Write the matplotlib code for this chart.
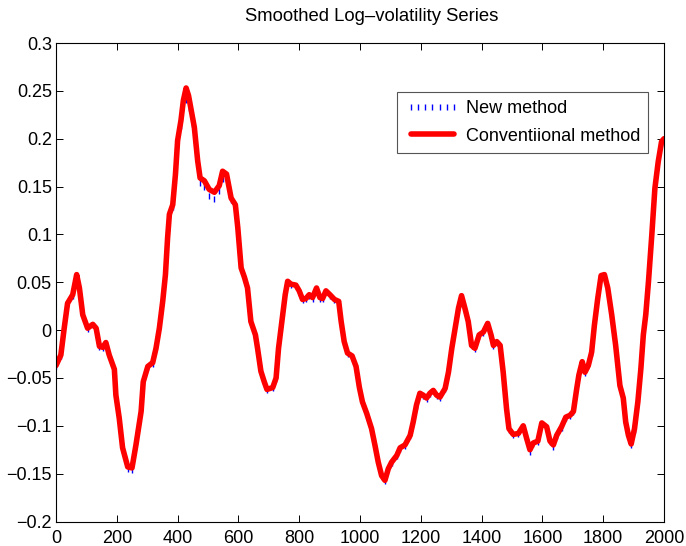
import matplotlib
matplotlib.use("Agg")
import matplotlib.pyplot as plt

plt.rcParams['font.family'] = ['Liberation Sans', 'DejaVu Sans']

title = "Smoothed Log\u2013volatility Series"
label_new = "New method"
label_conv = "Conventiional method"

x_vals = [0, 16, 27, 38, 55, 68, 77, 88, 104, 121, 132, 143, 154, 164, 175, 192, 197, 208, 219, 236,
          250, 263, 280, 287, 302, 318, 329, 340, 351, 360, 367, 373, 384, 393, 400, 411, 419, 428, 436, 447,
          455, 466, 474, 488, 504, 521, 537, 548, 561, 576, 590, 598, 609, 620, 630, 641, 656, 663, 674, 685,
          694, 713, 724, 732, 743, 754, 762, 773, 789, 800, 811, 822, 833, 844, 857, 868, 877, 888, 901, 916,
          930, 938, 948, 959, 974, 987, 998, 1008, 1022, 1038, 1049, 1060, 1071, 1082, 1093, 1104, 1121, 1132, 1148, 1165,
          1175, 1186, 1197, 1208, 1219, 1230, 1241, 1252, 1263, 1280, 1291, 1302, 1313, 1324, 1334, 1345, 1356, 1367, 1378, 1392,
          1406, 1420, 1431, 1439, 1450, 1461, 1471, 1482, 1490, 1504, 1521, 1537, 1548, 1559, 1570, 1585, 1598, 1614, 1625, 1636,
          1647, 1663, 1677, 1691, 1702, 1713, 1720, 1731, 1740, 1751, 1762, 1771, 1782, 1793, 1804, 1815, 1828, 1841, 1855, 1866,
          1874, 1883, 1892, 1903, 1914, 1924, 1932, 1940, 1949, 1960, 1970, 1981, 1992, 2000]

conv_y = [-0.037, -0.026, 0.002, 0.028, 0.037, 0.058, 0.044, 0.016, 0.002, 0.006, 0.002, -0.017, -0.018, -0.013, -0.026, -0.041, -0.068, -0.092, -0.123, -0.143,
          -0.144, -0.120, -0.085, -0.054, -0.038, -0.034, -0.019, 0.002, 0.030, 0.058, 0.096, 0.121, 0.131, 0.163, 0.198, 0.219, 0.240, 0.253, 0.245, 0.226,
          0.212, 0.177, 0.159, 0.156, 0.147, 0.144, 0.151, 0.166, 0.163, 0.138, 0.131, 0.107, 0.065, 0.055, 0.044, 0.009, -0.005, -0.019, -0.043, -0.054,
          -0.062, -0.060, -0.050, -0.019, 0.009, 0.037, 0.051, 0.048, 0.047, 0.041, 0.032, 0.033, 0.037, 0.034, 0.044, 0.034, 0.033, 0.041, 0.037, 0.032,
          0.030, 0.009, -0.012, -0.024, -0.027, -0.038, -0.060, -0.075, -0.087, -0.103, -0.120, -0.138, -0.152, -0.157, -0.145, -0.138, -0.131, -0.123, -0.120, -0.110,
          -0.096, -0.078, -0.066, -0.068, -0.071, -0.066, -0.063, -0.068, -0.070, -0.061, -0.044, -0.019, 0.002, 0.023, 0.036, 0.023, 0.009, -0.016, -0.019, -0.005,
          -0.002, 0.007, -0.005, -0.016, -0.012, -0.016, -0.044, -0.082, -0.103, -0.109, -0.108, -0.100, -0.113, -0.125, -0.118, -0.116, -0.097, -0.101, -0.116, -0.120,
          -0.110, -0.101, -0.091, -0.089, -0.085, -0.061, -0.047, -0.033, -0.044, -0.037, -0.023, 0.005, 0.033, 0.057, 0.058, 0.044, 0.016, -0.016, -0.058, -0.071,
          -0.096, -0.110, -0.119, -0.103, -0.075, -0.040, -0.005, 0.016, 0.051, 0.100, 0.148, 0.176, 0.197, 0.200]

new_y = [-0.038, -0.027, 0.001, 0.027, 0.036, 0.055, 0.043, 0.015, 0.001, 0.005, 0.001, -0.018, -0.019, -0.014, -0.027, -0.042, -0.069, -0.093, -0.124, -0.145,
         -0.146, -0.121, -0.087, -0.055, -0.039, -0.035, -0.020, 0.001, 0.029, 0.057, 0.094, 0.119, 0.129, 0.160, 0.194, 0.213, 0.232, 0.240, 0.232, 0.215,
         0.199, 0.165, 0.154, 0.150, 0.140, 0.137, 0.145, 0.158, 0.158, 0.136, 0.129, 0.105, 0.064, 0.054, 0.043, 0.008, -0.006, -0.020, -0.044, -0.055,
         -0.063, -0.061, -0.051, -0.020, 0.008, 0.036, 0.050, 0.047, 0.046, 0.040, 0.031, 0.032, 0.036, 0.033, 0.043, 0.033, 0.032, 0.040, 0.036, 0.031,
         0.029, 0.008, -0.013, -0.025, -0.028, -0.039, -0.061, -0.076, -0.088, -0.104, -0.121, -0.139, -0.153, -0.158, -0.146, -0.139, -0.132, -0.124, -0.121, -0.111,
         -0.097, -0.079, -0.067, -0.069, -0.072, -0.067, -0.064, -0.069, -0.071, -0.062, -0.045, -0.020, 0.001, 0.022, 0.035, 0.022, 0.008, -0.017, -0.020, -0.006,
         -0.003, 0.006, -0.006, -0.017, -0.013, -0.017, -0.045, -0.083, -0.104, -0.110, -0.109, -0.101, -0.114, -0.127, -0.119, -0.117, -0.098, -0.102, -0.117, -0.122,
         -0.111, -0.102, -0.092, -0.090, -0.086, -0.062, -0.048, -0.034, -0.045, -0.038, -0.024, 0.004, 0.032, 0.056, 0.057, 0.043, 0.015, -0.017, -0.059, -0.072,
         -0.097, -0.111, -0.120, -0.104, -0.076, -0.041, -0.006, 0.015, 0.050, 0.099, 0.147, 0.175, 0.196, 0.199]

x_ticks = [0, 200, 400, 600, 800, 1000, 1200, 1400, 1600, 1800, 2000]
y_ticks = [-0.2, -0.15, -0.1, -0.05, 0, 0.05, 0.1, 0.15, 0.2, 0.25, 0.3]
y_ticklabels = ['\u22120.2', '\u22120.15', '\u22120.1', '\u22120.05', '0', '0.05', '0.1', '0.15', '0.2', '0.25', '0.3']

fig = plt.figure(figsize=(6.86, 5.46), dpi=100)
ax = fig.add_axes([56 / 686, 1 - 521.5 / 546, 608 / 686, 478.5 / 546])

ax.plot(x_vals, new_y, linestyle='none', marker='|', markersize=5, markeredgewidth=1.0,
        color='#0000ff', label=label_new)
ax.plot(x_vals, conv_y, color='#ff0000', linewidth=4.0, solid_capstyle='round',
        solid_joinstyle='round', label=label_conv)

ax.set_xlim(0, 2000)
ax.set_ylim(-0.2, 0.3)
ax.set_xticks(x_ticks)
ax.set_yticks(y_ticks)
ax.set_yticklabels(y_ticklabels)
ax.tick_params(direction='in', length=5, width=0.7, top=True, right=True,
               labelsize=13, colors='black')
ax.tick_params(axis='x', pad=6)
ax.tick_params(axis='y', pad=3)
for s in ax.spines.values():
    s.set_linewidth(0.8)
    s.set_color('black')

ax.set_title(title, fontsize=13.3, pad=16, x=0.52)

leg = ax.legend(loc='upper right', bbox_to_anchor=(0.974, 0.898), borderaxespad=0,
                fontsize=13, numpoints=7, handlelength=3.0, handletextpad=0.35,
                labelspacing=0.6, borderpad=0.45, fancybox=False, framealpha=1,
                edgecolor='#555555')
leg.get_frame().set_linewidth(0.8)

fig.savefig('out.png', dpi=100)
